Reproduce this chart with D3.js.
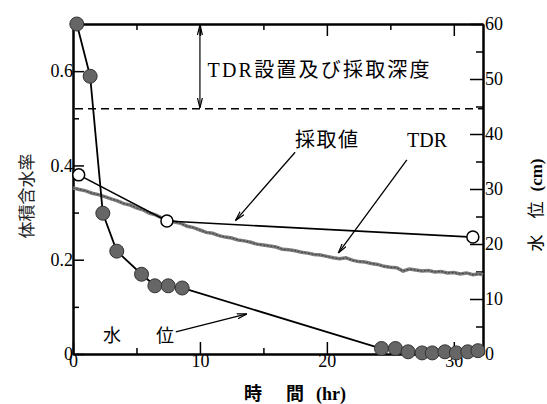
<!DOCTYPE html>
<html>
<head>
<meta charset="utf-8">
<script src="https://cdn.jsdelivr.net/npm/d3@7"></script>
<style>
  body { margin: 0; background: #fff; }
</style>
</head>
<body>
<div id="vis"></div>
<script>

const FRAME_WIDTH = 547;
const FRAME_HEIGHT = 404;
const MARGINS = {left: 73, right: 64, top: 24, bottom: 50};
const SERIF = '"Liberation Serif", "Times New Roman", "DejaVu Serif", serif';
const JP = '"Noto Sans CJK JP", sans-serif';

// water level (cm, right axis)
const levelTime = [0.3, 1.35, 2.35, 3.45, 5.4, 6.45, 7.5, 8.6, 24.3, 25.4, 26.4, 27.5, 28.3, 29.3, 30.2, 31.1, 31.9];
const levelCm   = [60, 50.5, 25.6, 18.7, 14.5, 12.4, 12.4, 12.0, 1.0, 1.0, 0.4, 0.2, 0.2, 0.4, 0.2, 0.4, 0.6];

// sampled water content (open circles)
const sampleTime = [0.45, 7.4, 31.5];
const sampleTheta = [0.380, 0.282, 0.248];

// TDR trace
const tdrTime = [0, 0.5, 1, 1.5, 2, 2.5, 3, 3.5, 4, 4.5, 5, 5.5, 6, 6.5, 7, 7.5, 8, 8.5, 9, 9.5,
  10, 10.5, 11, 11.5, 12, 12.5, 13, 13.5, 14, 14.5, 15, 15.5, 16, 16.5, 17, 17.5, 18, 18.5, 19, 19.5,
  20, 20.5, 21, 21.5, 22, 22.5, 23, 23.5, 24, 24.5, 25, 25.5, 26, 26.5, 27, 27.5, 28, 28.5, 29, 29.5,
  30, 30.5, 31, 31.5, 32, 32.3];
const tdrTheta = [0.352, 0.349, 0.346, 0.341, 0.338, 0.334, 0.329, 0.325, 0.319, 0.316, 0.310, 0.306, 0.299, 0.295, 0.289, 0.285, 0.280, 0.277, 0.271, 0.268,
  0.263, 0.258, 0.256, 0.251, 0.248, 0.246, 0.242, 0.240, 0.237, 0.233, 0.231, 0.229, 0.227, 0.222, 0.221, 0.219, 0.216, 0.214, 0.211, 0.210,
  0.207, 0.204, 0.202, 0.204, 0.199, 0.196, 0.195, 0.192, 0.190, 0.186, 0.184, 0.183, 0.176, 0.180, 0.178, 0.176, 0.177, 0.174, 0.175, 0.172,
  0.173, 0.170, 0.172, 0.168, 0.170, 0.168];

// depth line (left axis units) and ticks
const depthTheta = 0.52;
const leftTicks = [0, 0.2, 0.4, 0.6];
const leftMinor = [0.1, 0.3, 0.5];
const rightTicks = [0, 10, 20, 30, 40, 50, 60];
const rightMinor = [5, 15, 25, 35, 45, 55];
const xTicks = [0, 10, 20, 30];
const xMinor = [5, 15, 25];

const VIS_WIDTH = FRAME_WIDTH - MARGINS.left - MARGINS.right;
const VIS_HEIGHT = FRAME_HEIGHT - MARGINS.top - MARGINS.bottom;

const FRAME = d3.select('#vis')
  .append('svg')
    .attr('width', FRAME_WIDTH)
    .attr('height', FRAME_HEIGHT);

const X_SCALE = d3.scaleLinear().domain([0, 32.3]).range([MARGINS.left, MARGINS.left + VIS_WIDTH]);
const YL = d3.scaleLinear().domain([0, 0.7]).range([MARGINS.top + VIS_HEIGHT, MARGINS.top]);
const YR = d3.scaleLinear().domain([0, 60]).range([MARGINS.top + VIS_HEIGHT, MARGINS.top]);

const X0 = MARGINS.left, X1 = MARGINS.left + VIS_WIDTH;
const Y0 = MARGINS.top + VIS_HEIGHT, Y1 = MARGINS.top;

// arrow marker
const defs = FRAME.append('defs');
defs.append('marker')
    .attr('id', 'arr')
    .attr('viewBox', '0 0 10 6')
    .attr('refX', 10).attr('refY', 3)
    .attr('markerWidth', 10).attr('markerHeight', 6)
    .attr('markerUnits', 'userSpaceOnUse')
    .attr('orient', 'auto-start-reverse')
  .append('path')
    .attr('d', 'M0,0.5 L10,3 L0,5.5')
    .attr('fill', 'none')
    .attr('stroke', '#000')
    .attr('stroke-width', 1.2);

// axes
function styleAxis(g) {
  g.attr('font-family', null).attr('font-size', null);
  g.select('.domain').attr('stroke', '#000').attr('stroke-width', 2);
  g.selectAll('.tick line').attr('stroke', '#000').attr('stroke-width', 1.5);
  g.selectAll('text').style('font-family', SERIF).style('font-size', '18px').attr('fill', '#000');
}
const fmtL = (d) => d === 0 ? '0' : d3.format('.1f')(d);

FRAME.append('g').attr('transform', 'translate(' + X0 + ',0)')
  .call(d3.axisLeft(YL).tickValues(leftTicks).tickSize(-11).tickSizeOuter(0).tickPadding(0).tickFormat(fmtL))
  .call(styleAxis);
FRAME.append('g').attr('transform', 'translate(' + X0 + ',0)')
  .call(d3.axisLeft(YL).tickValues(leftMinor).tickSize(-6).tickSizeOuter(0).tickFormat(''))
  .call(styleAxis);

FRAME.append('g').attr('transform', 'translate(' + X1 + ',0)')
  .call(d3.axisRight(YR).tickValues(rightTicks).tickSize(-13).tickSizeOuter(0).tickPadding(2))
  .call(styleAxis);
FRAME.append('g').attr('transform', 'translate(' + X1 + ',0)')
  .call(d3.axisRight(YR).tickValues(rightMinor).tickSize(-7).tickSizeOuter(0).tickFormat(''))
  .call(styleAxis);

FRAME.append('g').attr('transform', 'translate(0,' + Y0 + ')')
  .call(d3.axisBottom(X_SCALE).tickValues(xTicks).tickSize(-12).tickSizeOuter(0).tickPadding(0))
  .call(styleAxis);
FRAME.append('g').attr('transform', 'translate(0,' + Y0 + ')')
  .call(d3.axisBottom(X_SCALE).tickValues(xMinor).tickSize(-6).tickSizeOuter(0).tickFormat(''))
  .call(styleAxis);

FRAME.append('g').attr('transform', 'translate(0,' + Y1 + ')')
  .call(d3.axisTop(X_SCALE).tickValues(xTicks.slice(1)).tickSize(-12).tickSizeOuter(0).tickFormat(''))
  .call(styleAxis);
FRAME.append('g').attr('transform', 'translate(0,' + Y1 + ')')
  .call(d3.axisTop(X_SCALE).tickValues(xMinor).tickSize(-6).tickSizeOuter(0).tickFormat(''))
  .call(styleAxis);

// depth dashed line and double arrow
FRAME.append('line')
  .attr('x1', X0 + 2).attr('x2', X1)
  .attr('y1', YL(depthTheta)).attr('y2', YL(depthTheta))
  .attr('stroke', '#000').attr('stroke-width', 1.5)
  .attr('stroke-dasharray', '8,5');

FRAME.append('line')
  .attr('x1', X_SCALE(10)).attr('x2', X_SCALE(10))
  .attr('y1', Y1 + 1).attr('y2', YL(depthTheta) - 1)
  .attr('stroke', '#000').attr('stroke-width', 1.2)
  .attr('marker-start', 'url(#arr)')
  .attr('marker-end', 'url(#arr)');

// TDR trace
const tdr = tdrTime.map((t, i) => [t, tdrTheta[i]]);
const tdrLine = d3.line().x(d => X_SCALE(d[0])).y(d => YL(d[1]));
FRAME.append('path').datum(tdr)
  .attr('d', tdrLine)
  .attr('fill', 'none').attr('stroke', '#7d7d7d').attr('stroke-width', 3.5);
FRAME.append('path').datum(tdr)
  .attr('d', tdrLine)
  .attr('fill', 'none').attr('stroke', '#3a3a3a').attr('stroke-width', 1)
  .attr('stroke-dasharray', '2,1.5');

// sampled values
const samples = sampleTime.map((t, i) => [t, sampleTheta[i]]);
FRAME.append('path').datum(samples)
  .attr('d', tdrLine)
  .attr('fill', 'none').attr('stroke', '#000').attr('stroke-width', 1.6);
FRAME.selectAll('.sample')
  .data(samples)
  .enter()
  .append('circle')
    .attr('cx', d => X_SCALE(d[0]))
    .attr('cy', d => YL(d[1]))
    .attr('r', 6)
    .attr('fill', '#fff')
    .attr('stroke', '#000')
    .attr('stroke-width', 1.5);

// water level
const level = levelTime.map((t, i) => [t, levelCm[i]]);
FRAME.append('path').datum(level)
  .attr('d', d3.line().x(d => X_SCALE(d[0])).y(d => YR(d[1])))
  .attr('fill', 'none').attr('stroke', '#000').attr('stroke-width', 1.8);
FRAME.selectAll('.level')
  .data(level)
  .enter()
  .append('circle')
    .attr('cx', d => X_SCALE(d[0]))
    .attr('cy', d => YR(d[1]))
    .attr('r', 7)
    .attr('fill', '#666')
    .attr('stroke', '#333')
    .attr('stroke-width', 1);

// annotation arrows (data units: [t, theta] start -> end)
const annoArrows = [
  [[17.5, 0.428], [12.8, 0.283]],
  [[26.3, 0.412], [20.9, 0.214]],
  [[8.1, 0.047], [13.7, 0.085]]
];
FRAME.selectAll('.anno')
  .data(annoArrows)
  .enter()
  .append('line')
    .attr('x1', d => X_SCALE(d[0][0])).attr('y1', d => YL(d[0][1]))
    .attr('x2', d => X_SCALE(d[1][0])).attr('y2', d => YL(d[1][1]))
    .attr('stroke', '#000').attr('stroke-width', 1.3)
    .attr('marker-end', 'url(#arr)');

// texts
const t1 = FRAME.append('text')
  .attr('x', X_SCALE(10.6)).attr('y', YL(0.602))
  .attr('dy', '0.35em')
  .style('font-family', JP).style('font-size', '20px')
  .attr('textLength', 222).attr('lengthAdjust', 'spacing');
t1.append('tspan').style('font-family', SERIF).text('TDR');
t1.append('tspan').text('設置及び採取深度');

FRAME.append('text')
  .attr('x', 295).attr('y', YL(0.455))
  .attr('dy', '0.35em')
  .style('font-family', JP).style('font-size', '20px')
  .attr('textLength', 63).attr('lengthAdjust', 'spacing')
  .text('採取値');

FRAME.append('text')
  .attr('x', 407).attr('y', YL(0.455))
  .attr('dy', '0.35em')
  .style('font-family', SERIF).style('font-size', '20px')
  .text('TDR');

FRAME.append('text')
  .attr('x', 103).attr('y', 336)
  .attr('dy', '0.35em')
  .style('font-family', JP).style('font-size', '18px')
  .text('水');
FRAME.append('text')
  .attr('x', 156).attr('y', 336)
  .attr('dy', '0.35em')
  .style('font-family', JP).style('font-size', '18px')
  .text('位');

// axis titles
FRAME.append('text')
  .attr('transform', 'translate(27,196) rotate(-90)')
  .attr('text-anchor', 'middle')
  .attr('dy', '0.35em')
  .style('font-family', JP).style('font-size', '17px')
  .attr('fill', '#222')
  .text('体積含水率');

const rt = FRAME.append('text')
  .attr('transform', 'translate(536,205) rotate(-90)')
  .attr('text-anchor', 'middle')
  .attr('dy', '0.35em')
  .style('font-family', JP).style('font-size', '17px');
rt.append('tspan').text('水');
rt.append('tspan').attr('dx', 16).text('位');
rt.append('tspan').attr('dx', 10).style('font-family', SERIF).attr('font-weight', 'bold').text('(cm)');

const xt = FRAME.append('text')
  .attr('x', 295).attr('y', 394)
  .attr('text-anchor', 'middle')
  .attr('dy', '0.35em')
  .style('font-family', JP).style('font-size', '18px')
  .attr('font-weight', 'bold');
xt.append('tspan').text('時');
xt.append('tspan').attr('dx', 24).text('間');
xt.append('tspan').attr('dx', 12).style('font-family', SERIF).text('(hr)');

</script>
</body>
</html>
